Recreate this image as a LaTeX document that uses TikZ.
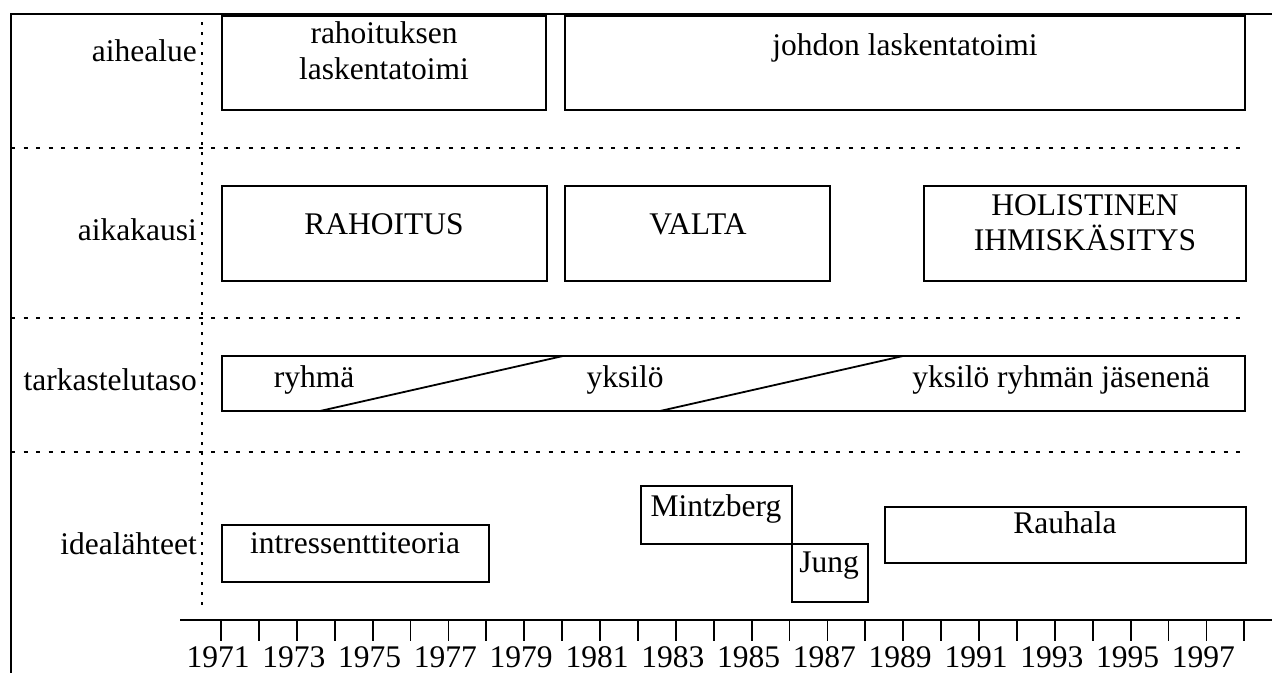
\documentclass[tikz,border=0pt]{standalone}
\usepackage{fontspec}
\setmainfont{Liberation Serif}
\begin{document}
\begin{tikzpicture}[x=1pt,y=-1pt,
  every node/.style={font=\fontsize{31.5}{35}\selectfont},
  box/.style={draw,line width=1.8pt,inner sep=0pt,outer sep=0pt},
  txt/.style={anchor=base,inner sep=0pt},
  lab/.style={anchor=base east,inner sep=0pt},
  frame/.style={line width=1.8pt},
  hdot/.style={line width=2pt,dash pattern=on 4pt off 8.5pt},
  vdot/.style={line width=2pt,dash pattern=on 3pt off 7pt},
  thin/.style={line width=1.8pt}]
\useasboundingbox (0,0) rectangle (1272,673);
% frame
\draw[frame] (1272,14) -- (11,14) -- (11,673);
% separators
\draw[vdot] (202,22) -- (202,605);
\draw[hdot] (11,148) -- (1245,148);
\draw[hdot] (11,318) -- (1245,318);
\draw[hdot] (11,452) -- (1245,452);
% row labels
\node[lab] (l1) at (197,61) {aihealue};
\node[lab] (l2) at (197,240) {aikakausi};
\node[lab] (l3) at (197,390) {tarkastelutaso};
\node[lab] (l4) at (197,554) {idealähteet};
% row 1
\node[box,minimum width=324pt,minimum height=94pt] (b1) at (384,63) {};
\node[txt] (t1a) at (384,43) {rahoituksen};
\node[txt] (t1b) at (384,79) {laskentatoimi};
\node[box,minimum width=680pt,minimum height=94pt] (b2) at (905,63) {};
\node[txt] (t2) at (905,55) {johdon laskentatoimi};
% row 2
\node[box,minimum width=325pt,minimum height=95pt] (b3) at (384.5,233.5) {};
\node[txt] (t3) at (384,234) {RAHOITUS};
\node[box,minimum width=265pt,minimum height=95pt] (b4) at (697.5,233.5) {};
\node[txt] (t4) at (698,234) {VALTA};
\node[box,minimum width=322pt,minimum height=95pt] (b5) at (1085,233.5) {};
\node[txt] (t5a) at (1085,215) {HOLISTINEN};
\node[txt] (t5b) at (1085,250) {IHMISKÄSITYS};
% row 3
\node[box,minimum width=1023pt,minimum height=55pt] (b6) at (733.5,383.5) {};
\coordinate (d1a) at (320,411);
\coordinate (d1b) at (563,356);
\coordinate (d2a) at (660,411);
\coordinate (d2b) at (903,356);
\draw[thin] (d1a) -- (d1b);
\draw[thin] (d2a) -- (d2b);
\node[txt] (t6a) at (314,387) {ryhmä};
\node[txt] (t6b) at (625,387) {yksilö};
\node[txt] (t6c) at (1061,387) {yksilö ryhmän jäsenenä};
% row 4
\node[box,minimum width=267pt,minimum height=57pt] (b7) at (355.5,553.5) {};
\node[txt] (t7) at (355,553) {intressenttiteoria};
\node[box,minimum width=151pt,minimum height=58pt] (b8) at (716.5,515) {};
\node[txt] (t8) at (716,516) {Mintzberg};
\node[box,minimum width=76pt,minimum height=58pt] (b9) at (830,573) {};
\node[txt] (t9) at (829,572) {Jung};
\node[box,minimum width=361pt,minimum height=56pt] (b10) at (1065.5,535) {};
\node[txt] (t10) at (1065,533) {Rauhala};
% axis
\coordinate (ax0) at (180,620);
\coordinate (ax1) at (1272,620);
\draw[frame] (ax0) -- (ax1);
\foreach \i in {0,...,27} {
  \coordinate (tk\i) at ({221+\i*37.9},620);
  \draw[thin] (tk\i) -- ++(0,21);
}
\foreach \i in {0,2,...,26} {
  \pgfmathtruncatemacro{\yr}{1971+\i}
  \node[txt] (y\i) at ({218+\i*37.9},667) {\yr};
}
\end{tikzpicture}
\end{document}
